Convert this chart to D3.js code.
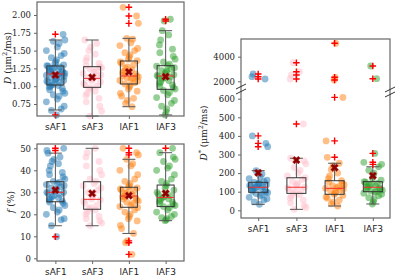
<!DOCTYPE html>
<html>
<head>
<meta charset="utf-8">
<script src="https://cdn.jsdelivr.net/npm/d3@7"></script>
<style>
  body { margin: 0; background: #fff; }
  svg { display: block; }
</style>
</head>
<body>
<div id="chart"></div>
<script>
var cats = ["sAF1", "sAF3", "lAF1", "lAF3"];
var colors = ["#1f77b4", "#ffc0cb", "#ff7f0e", "#2ca02c"];

// ---- D (um^2/ms) ----
var D_sAF1 = [0.596,0.66,0.68,0.72,0.78,0.82,0.86,0.88,0.90,0.93,0.95,0.97,0.99,1.00,1.01,1.02,1.03,1.05,1.06,1.07,1.08,1.09,1.10,1.11,1.12,1.13,1.14,1.15,1.16,1.17,1.17,1.18,1.19,1.20,1.21,1.22,1.23,1.24,1.25,1.26,1.27,1.28,1.29,1.30,1.32,1.34,1.37,1.40,1.43,1.46,1.50,1.55,1.60,1.63,1.649,1.729];
var D_sAF3 = [0.58,0.65,0.72,0.78,0.83,0.87,0.90,0.93,0.96,0.98,1.00,1.02,1.04,1.06,1.08,1.10,1.11,1.12,1.14,1.16,1.18,1.20,1.22,1.24,1.26,1.27,1.29,1.32,1.36,1.40,1.45,1.50,1.55,1.60,1.649];
var D_lAF1 = [0.712,0.76,0.80,0.83,0.86,0.90,0.93,0.96,0.99,1.01,1.03,1.05,1.07,1.08,1.10,1.11,1.12,1.13,1.14,1.15,1.17,1.19,1.21,1.23,1.25,1.27,1.30,1.32,1.34,1.36,1.38,1.41,1.44,1.47,1.50,1.53,1.57,1.61,1.66,1.672,1.883,1.986,2.108];
var D_lAF3 = [0.596,0.64,0.68,0.72,0.76,0.80,0.84,0.88,0.91,0.94,0.96,0.98,1.00,1.02,1.04,1.06,1.08,1.10,1.12,1.13,1.14,1.15,1.16,1.18,1.20,1.21,1.22,1.24,1.26,1.28,1.29,1.31,1.34,1.38,1.42,1.47,1.52,1.58,1.65,1.72,1.78,1.916,1.94];
var D_q1 = [1.017, 0.984, 1.031, 0.956];
var D_med = [1.171, 1.11, 1.143, 1.143];
var D_q3 = [1.284, 1.274, 1.354, 1.288];
var D_lo = [0.666, 0.58, 0.712, 0.596];
var D_hi = [1.649, 1.649, 1.672, 1.78];
var D_mean = [1.157, 1.125, 1.2, 1.134];
var D_fliers = [[1.729, 0.596], [], [2.108, 1.986, 1.883], [1.94, 1.916]];
var D_ticks = [0.75, 1.00, 1.25, 1.50, 1.75, 2.00];

// ---- f (%) ----
var f_sAF1 = [9.8,14.8,17.5,18,20,21,22,23,24,25,25.5,26,26.5,27,27.5,28,28.5,29,29.5,30,30,30.5,31,31.5,32,32.5,33,33.5,34,34.5,35,36,37,38,39,40,42,43,44,45,46,47.8,49,50];
var f_sAF3 = [14.8,16,17,18,19,20,21,22,22.5,23,24,25,26,26.5,27,28,29,30,31,32,33,34,35,36,38,40,42,44,46,48,50];
var f_lAF1 = [1.8,7.1,7.9,11.3,13.5,15,17,18,19,20,21,22,23,23.5,24,25,25.5,26,26.5,27,27.5,28,28.3,29,29.5,30,30.5,31,31.5,32,32.5,33,34,35,36,38,40,42,43,45,47,48,50];
var f_lAF3 = [17.1,17.5,18,18.5,19,20,21,22,23,23.5,24,24.5,25,25.5,26,26.5,27,27.5,28,28.5,29,30,31,32,33,34,35,36,38,40,41,42,44,45,46,48,50];
var f_q1 = [25.7, 22.3, 23.2, 23.5];
var f_med = [30, 26.8, 28.3, 27.6];
var f_q3 = [34.8, 34.8, 32.3, 33.3];
var f_lo = [14.8, 14.8, 11.3, 17.1];
var f_hi = [47.8, 50, 45, 48];
var f_mean = [31, 29.5, 28.5, 29.5];
var f_fliers = [[50, 49, 9.8], [], [50, 48, 47, 7.9, 7.1, 1.8], [50]];
var f_ticks = [0, 10, 20, 30, 40, 50];

// ---- D* (um^2/ms) ----
var Ds_sAF1 = [32,45,55,62,70,78,85,90,95,98,102,106,110,114,118,121,124,127,130,134,137,140,143,146,150,155,162,170,180,195,213,342,360,400,2187,2374,2593];
var Ds_sAF3 = [5,15,25,40,55,65,75,85,92,100,108,115,120,124,130,138,145,155,165,175,185,200,215,230,250,265,280,464,2187,2512,2780,3512];
var Ds_lAF1 = [23,35,45,55,65,72,80,86,92,98,104,110,114,118,122,127,132,138,145,152,159,170,185,200,220,240,253,285,373,607,2106,2325,5089];
var Ds_lAF3 = [34,45,58,68,78,86,92,97,100,104,108,112,116,120,124,127,131,135,140,145,150,154,162,172,185,200,215,234,247,258,306,2211,3244];
var Ds_q1 = [96.8, 91, 86, 100];
var Ds_med = [123.7, 124, 118, 124];
var Ds_q3 = [150.5, 175, 159, 154];
var Ds_lo = [32, 5, 23, 34];
var Ds_hi = [213, 280, 253, 234];
var Ds_mean = [202, 270, 229, 186];
var Ds_fliers = [[400, 360, 342, 2187, 2374, 2593], [464, 2187, 2512, 2780, 3512], [285, 373, 607, 2106, 2325, 5089], [247, 258, 306, 2211, 3244]];
var Ds_ticksLow = [0, 100, 200, 300, 400, 500, 600];
var Ds_ticksHigh = [2000, 4000];

// jitter pattern for the strip points (horizontal offset only)
var jit = [0.12,-0.58,0.83,-0.21,0.47,-0.9,0.31,-0.4,0.69,-0.05,0.95,-0.73,0.2,-0.33,0.58,-0.62,0.05,0.77,-0.85,0.38,-0.15,0.88,-0.5];

var W = 400, H = 278;
var svg = d3.select("#chart").append("svg").attr("width", W).attr("height", H);
svg.append("rect").attr("width", W).attr("height", H).attr("fill", "#fff");

var serif = "DejaVu Serif";
var sans = "DejaVu Sans";

function yLabel(g, x, y, parts) {
  var t = g.append("text")
    .attr("transform", "translate(" + x + "," + y + ") rotate(-90)")
    .attr("text-anchor", "middle")
    .attr("font-family", serif).attr("font-size", 9).attr("fill", "#222");
  parts.forEach(function(p) {
    var s = t.append("tspan").text(p.t);
    if (p.i) s.attr("font-style", "italic");
    if (p.sup) s.attr("baseline-shift", "super").attr("font-size", 6.5);
  });
}

function panel(cfg) {
  var g = svg.append("g");
  var x = d3.scaleLinear().domain(cfg.xdom).range([cfg.left, cfg.right]);
  var y = cfg.y;

  // points
  cfg.points.forEach(function(arr, i) {
    g.append("g").selectAll("circle").data(arr).enter().append("circle")
      .attr("cx", function(d, j) { return x(i + 1) + jit[(j * 7 + i * 3) % jit.length] * 10; })
      .attr("cy", function(d) { return y(d); })
      .attr("r", 3.4)
      .attr("fill", colors[i])
      .attr("fill-opacity", 0.5);
  });

  // boxes
  var bw = cfg.boxW, cw = 13;
  cats.forEach(function(c, i) {
    var cx = x(i + 1);
    var bg = g.append("g");
    bg.append("line").attr("x1", cx).attr("x2", cx).attr("y1", y(cfg.q3[i])).attr("y2", y(cfg.hi[i]))
      .attr("stroke", "#555").attr("stroke-width", 1);
    bg.append("line").attr("x1", cx).attr("x2", cx).attr("y1", y(cfg.q1[i])).attr("y2", y(cfg.lo[i]))
      .attr("stroke", "#555").attr("stroke-width", 1);
    [cfg.hi[i], cfg.lo[i]].forEach(function(v) {
      bg.append("line").attr("x1", cx - cw / 2).attr("x2", cx + cw / 2).attr("y1", y(v)).attr("y2", y(v))
        .attr("stroke", "#555").attr("stroke-width", 1);
    });
    bg.append("rect").attr("x", cx - bw / 2).attr("width", bw)
      .attr("y", y(cfg.q3[i])).attr("height", y(cfg.q1[i]) - y(cfg.q3[i]))
      .attr("fill", "none").attr("stroke", "#333").attr("stroke-width", 1);
    bg.append("line").attr("x1", cx - bw / 2).attr("x2", cx + bw / 2).attr("y1", y(cfg.med[i])).attr("y2", y(cfg.med[i]))
      .attr("stroke", "#f03030").attr("stroke-width", 1);
    // fliers
    cfg.fliers[i].forEach(function(v) {
      var fy = y(v);
      bg.append("path").attr("d", "M" + (cx - 3.3) + "," + fy + "H" + (cx + 3.3) + "M" + cx + "," + (fy - 3.3) + "V" + (fy + 3.3))
        .attr("stroke", "#ff0000").attr("stroke-width", 1.4);
    });
    // mean
    bg.append("path").attr("d", d3.symbol().type(d3.symbolCross).size(36)())
      .attr("transform", "translate(" + cx + "," + y(cfg.mean[i]) + ") rotate(45)")
      .attr("fill", "#8b0000").attr("stroke", "#b22222").attr("stroke-width", 0.5);
  });

  // frame
  g.append("rect").attr("x", cfg.left).attr("y", cfg.top)
    .attr("width", cfg.right - cfg.left).attr("height", cfg.bottom - cfg.top)
    .attr("fill", "none").attr("stroke", "#666").attr("stroke-width", 1.2);

  // x axis labels
  var xa = g.append("g").attr("transform", "translate(0," + cfg.bottom + ")")
    .call(d3.axisBottom(x).tickValues([1, 2, 3, 4]).tickSize(3).tickFormat(function(d) { return cats[d - 1]; }));
  xa.select(".domain").remove();
  xa.selectAll("line").attr("stroke", "#666");
  xa.selectAll("text").attr("font-family", sans).attr("font-size", 9).attr("fill", "#222").attr("dy", "0.85em");

  return g;
}

function leftAxis(g, scale, ticks, fmt, xpos) {
  var a = g.append("g").attr("transform", "translate(" + xpos + ",0)")
    .call(d3.axisLeft(scale).tickValues(ticks).tickSize(3).tickFormat(fmt));
  a.select(".domain").remove();
  a.selectAll("line").attr("stroke", "#666");
  a.selectAll("text").attr("font-family", serif).attr("font-size", 8.5).attr("fill", "#222");
}

// Panel 1 : D
var yD = d3.scaleLinear().domain([0.75, 2.0]).range([104, 15]);
var p1 = panel({
  left: 37, right: 184, top: 2, bottom: 116, xdom: [0.5, 4.5], y: yD, boxW: 17,
  points: [D_sAF1, D_sAF3, D_lAF1, D_lAF3],
  q1: D_q1, med: D_med, q3: D_q3, lo: D_lo, hi: D_hi, mean: D_mean, fliers: D_fliers
});
leftAxis(p1, yD, D_ticks, d3.format(".2f"), 37);
yLabel(p1, 11, 58, [{ t: "D", i: true }, { t: " (μm" }, { t: "2", sup: true }, { t: "/ms)" }]);

// Panel 2 : f
var yF = d3.scaleLinear().domain([0, 50]).range([258.3, 148.3]);
var p2 = panel({
  left: 37, right: 184, top: 144, bottom: 261, xdom: [0.5, 4.5], y: yF, boxW: 17,
  points: [f_sAF1, f_sAF3, f_lAF1, f_lAF3],
  q1: f_q1, med: f_med, q3: f_q3, lo: f_lo, hi: f_hi, mean: f_mean, fliers: f_fliers
});
leftAxis(p2, yF, f_ticks, d3.format("d"), 37);
yLabel(p2, 14, 202, [{ t: "f", i: true }, { t: " (%)" }]);

// Panel 3 : D* with broken axis
var yLow = d3.scaleLinear().domain([0, 600]).range([210.3, 98.7]);
var yHigh = d3.scaleLinear().domain([2000, 4000]).range([81.3, 56.7]);
var yDs = function(v) { return v > 1000 ? yHigh(v) : yLow(v); };
var p3 = panel({
  left: 241, right: 390, top: 39, bottom: 218, xdom: [0.55, 4.45], y: yDs, boxW: 19,
  points: [Ds_sAF1, Ds_sAF3, Ds_lAF1, Ds_lAF3],
  q1: Ds_q1, med: Ds_med, q3: Ds_q3, lo: Ds_lo, hi: Ds_hi, mean: Ds_mean, fliers: Ds_fliers
});
leftAxis(p3, yLow, Ds_ticksLow, d3.format("d"), 241);
leftAxis(p3, yHigh, Ds_ticksHigh, d3.format("d"), 241);
yLabel(p3, 207, 133, [{ t: "D", i: true }, { t: "*", sup: true }, { t: " (μm" }, { t: "2", sup: true }, { t: "/ms)" }]);

// break marks
[[241, 89], [390, 92]].forEach(function(b) {
  [-2.5, 2.5].forEach(function(o) {
    p3.append("line")
      .attr("x1", b[0] - 5).attr("y1", b[1] + o + 2.5)
      .attr("x2", b[0] + 5).attr("y2", b[1] + o - 2.5)
      .attr("stroke", "#333").attr("stroke-width", 1);
  });
});
</script>
</body>
</html>
